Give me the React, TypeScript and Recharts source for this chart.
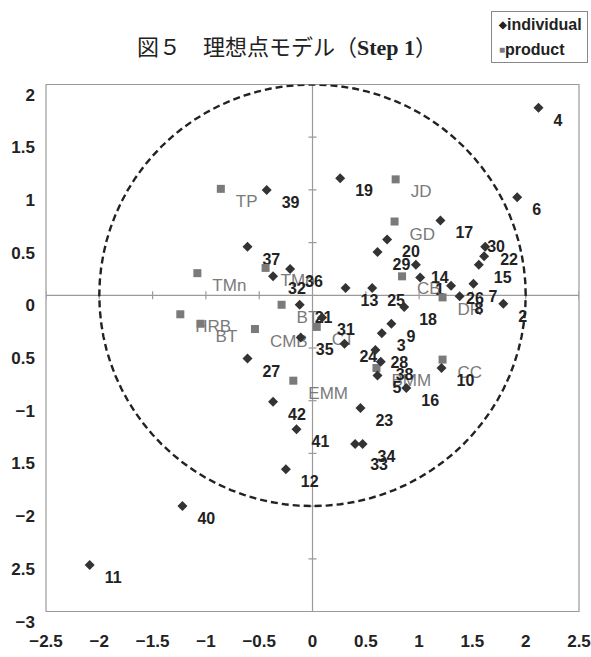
import React from 'react';
import { ScatterChart, Scatter, XAxis, YAxis, ReferenceLine, ReferenceArea } from 'recharts';

// individuals: id, ideal point coordinates
const individualIds = [
  1, 2, 3, 4, 5, 6, 7, 8, 9, 10, 11, 12, 13, 14, 15, 16, 17, 18, 19, 20, 21,
  22, 23, 24, 25, 26, 27, 28, 29, 30, 31, 32, 33, 34, 35, 36, 37, 38, 39, 40, 41, 42,
];
const individualX = [
  1.01, 1.79, 0.65, 2.12, 0.61, 1.92, 1.51, 1.38, 0.74, 1.21, -2.09, -0.25, 0.31, 0.97, 1.56, 0.88, 1.2, 0.86, 0.26, 0.7, -0.12,
  1.62, 0.45, 0.3, 0.56, 1.3, -0.61, 0.59, 0.61, 1.61, 0.09, -0.37, 0.4, 0.47, -0.11, -0.21, -0.61, 0.64, -0.43, -1.22, -0.15, -0.37,
];
const individualY = [
  0.17, -0.08, -0.36, 1.78, -0.76, 0.93, 0.11, -0.01, -0.27, -0.69, -2.56, -1.65, 0.07, 0.29, 0.29, -0.88, 0.71, -0.11, 1.11, 0.53, -0.09,
  0.46, -1.07, -0.46, 0.07, 0.09, -0.6, -0.52, 0.41, 0.37, -0.21, 0.18, -1.41, -1.41, -0.4, 0.25, 0.46, -0.63, 1.0, -2.0, -1.27, -1.01,
];

// products
const productNames = ['TP', 'TMn', 'TMo', 'HRB', 'BT', 'BT', 'CMB', 'CT', 'EMM', 'BMM', 'CC', 'DR', 'CB', 'GD', 'JD'];
const productX = [-0.86, -1.08, -0.44, -1.24, -1.05, -0.29, -0.54, 0.04, -0.18, 0.6, 1.22, 1.22, 0.84, 0.77, 0.78];
const productY = [1.01, 0.21, 0.26, -0.18, -0.27, -0.09, -0.32, -0.3, -0.81, -0.69, -0.61, -0.02, 0.18, 0.7, 1.1];

const xTicks = [-2.5, -2, -1.5, -1, -0.5, 0, 0.5, 1, 1.5, 2, 2.5];
const xTickLabels = ['−2.5', '−2', '−1.5', '−1', '−0.5', '0', '0.5', '1', '1.5', '2', '2.5'];
const yTicks = [2, 1.5, 1, 0.5, 0, -0.5, -1, -1.5, -2, -2.5, -3];
const yTickLabels = ['2', '1.5', '1', '0.5', '0', '0.5', '−1', '1.5', '−2', '2.5', '−3'];

// radius of the ideal-point boundary
const IDEAL_RADIUS = 2;

// a few labels were moved by hand so they don't pile up
const labelNudge: Record<string, [number, number]> = { '30': [-12, -22], '33': [0, 8] };

const SANS = '"Liberation Sans", Arial, sans-serif';

const individuals = individualIds.map((id, i) => ({ name: String(id), x: individualX[i], y: individualY[i] }));
const products = productNames.map((name, i) => ({ name, x: productX[i], y: productY[i] }));

const steps = 96;
const circle = Array.from({ length: steps + 1 }, (_, i) => {
  const a = (i / steps) * Math.PI * 2;
  return { x: IDEAL_RADIUS * Math.cos(a), y: IDEAL_RADIUS * Math.sin(a) };
});

const vTicks = yTicks.filter((v) => v !== 0).map((v) => ({ x: 0, y: v }));
const hTicks = xTicks.filter((v) => v !== 0).map((v) => ({ x: v, y: 0 }));

const Diamond = ({ cx, cy }: any) => (
  <polygon points={`${cx},${cy - 5} ${cx + 5},${cy} ${cx},${cy + 5} ${cx - 5},${cy}`} fill="#333" />
);
const Square = ({ cx, cy }: any) => <rect x={cx - 4} y={cy - 4} width={8} height={8} fill="#7a7a7a" />;

const makeLabel = (color: string, size: number, weight: number) => (props: any) => {
  const { cx, cy, payload } = props;
  const [dx, dy] = labelNudge[payload.name] || [0, 0];
  return (
    <text x={cx + 15 + dx} y={cy + 18 + dy} fontSize={size} fontWeight={weight} fill={color} fontFamily={SANS}>
      {payload.name}
    </text>
  );
};

const XTick = ({ x, y, payload }: any) => (
  <text x={x} y={y + 35} textAnchor="middle" fontSize={17} fontWeight={700} fill="#222" fontFamily={SANS}>
    {xTickLabels[xTicks.indexOf(payload.value)]}
  </text>
);
const YTick = ({ x, y, payload }: any) => (
  <text x={x - 11} y={y + 16} textAnchor="end" fontSize={17} fontWeight={700} fill="#222" fontFamily={SANS}>
    {yTickLabels[yTicks.indexOf(payload.value)]}
  </text>
);

const Nothing = () => <g />;

export default function App() {
  return (
    <div style={{ position: 'absolute', left: 0, top: 0, width: 591, height: 657, background: '#fff' }}>
      <div
        style={{
          position: 'absolute',
          left: 137,
          top: 31,
          fontFamily: '"Noto Sans CJK JP", sans-serif',
          fontSize: 22,
          color: '#222',
          whiteSpace: 'nowrap',
          lineHeight: '28px',
        }}
      >
        図５　理想点モデル（<span style={{ fontFamily: '"Liberation Serif", serif', fontWeight: 700 }}>Step 1</span>）
      </div>
      <div
        style={{
          position: 'absolute',
          left: 491,
          top: 11,
          width: 97,
          height: 52,
          border: '1px solid #888',
          fontFamily: SANS,
          fontWeight: 700,
          fontSize: 16,
          color: '#222',
          lineHeight: '25px',
          paddingLeft: 7,
          boxSizing: 'border-box',
        }}
      >
        <div>
          <span style={{ fontSize: 10, verticalAlign: 2 }}>◆</span>individual
        </div>
        <div>
          <span style={{ fontSize: 10, color: '#7a7a7a', verticalAlign: 2 }}>■</span>product
        </div>
      </div>
      <ScatterChart width={591} height={657} margin={{ top: 84.5, right: 12, bottom: 0, left: 0 }}>
        <XAxis
          type="number"
          dataKey="x"
          domain={[-2.5, 2.5]}
          ticks={xTicks}
          allowDataOverflow
          height={45.5}
          axisLine={false}
          tickLine={false}
          tickSize={0}
          tickMargin={0}
          tick={<XTick />}
        />
        <YAxis
          type="number"
          dataKey="y"
          domain={[-3, 2]}
          ticks={yTicks}
          allowDataOverflow
          width={46}
          axisLine={false}
          tickLine={false}
          tickSize={0}
          tickMargin={0}
          tick={<YTick />}
        />
        <ReferenceArea x1={-2.5} x2={2.5} y1={-3} y2={2} fill="none" stroke="#9a9a9a" strokeWidth={1.2} />
        <ReferenceLine x={0} stroke="#9a9a9a" strokeWidth={1.2} />
        <ReferenceLine y={0} stroke="#9a9a9a" strokeWidth={1.2} />
        <Scatter
          data={vTicks}
          isAnimationActive={false}
          shape={({ cx, cy }: any) => <line x1={cx - 4} x2={cx + 4} y1={cy} y2={cy} stroke="#9a9a9a" strokeWidth={1.2} />}
        />
        <Scatter
          data={hTicks}
          isAnimationActive={false}
          shape={({ cx, cy }: any) => <line x1={cx} x2={cx} y1={cy - 4} y2={cy + 4} stroke="#9a9a9a" strokeWidth={1.2} />}
        />
        <Scatter
          data={circle}
          isAnimationActive={false}
          line={{ stroke: '#222', strokeWidth: 2.4, strokeDasharray: '7 4' }}
          lineType="joint"
          shape={Nothing}
        />
        <Scatter data={products} isAnimationActive={false} shape={makeLabel('#7a7a7a', 17, 400)} />
        <Scatter data={individuals} isAnimationActive={false} shape={makeLabel('#222', 16, 700)} />
        <Scatter name="product" data={products} isAnimationActive={false} shape={Square} />
        <Scatter name="individual" data={individuals} isAnimationActive={false} shape={Diamond} />
      </ScatterChart>
    </div>
  );
}
